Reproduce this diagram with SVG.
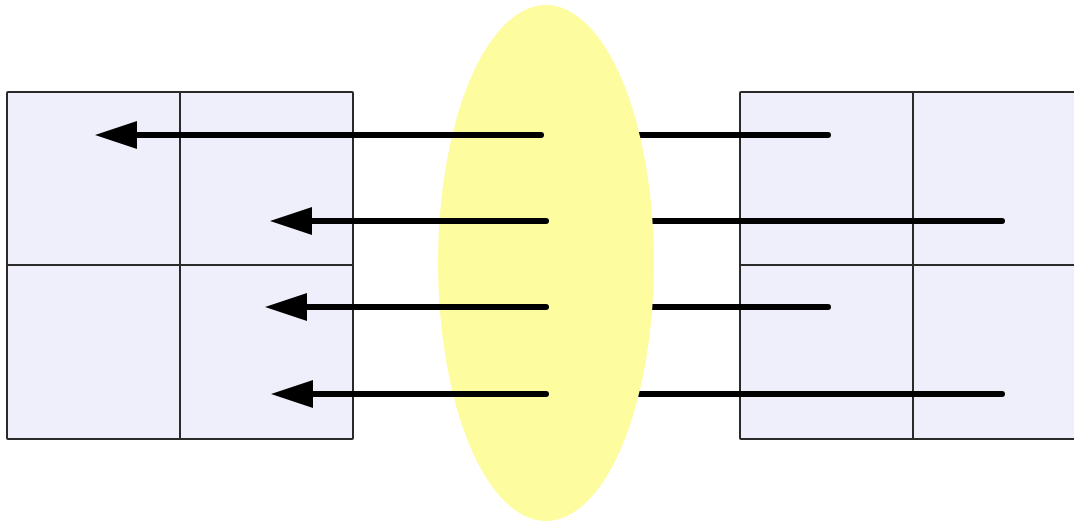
<svg xmlns="http://www.w3.org/2000/svg" width="1074" height="527" viewBox="0 0 1074 527">
  <style>
    .cell { fill: #eeeffb; stroke: #2a2a2a; stroke-width: 2; }
    .div { stroke: #2a2a2a; stroke-width: 2; fill: none; }
    .ray { stroke: #000; stroke-width: 6; fill: none; stroke-linecap: round; }
    .lens { fill: #fdfc9e; }
  </style>
  <defs>
    <marker id="head" markerUnits="userSpaceOnUse" markerWidth="42" markerHeight="28" viewBox="0 0 42 28" refX="0" refY="14" orient="auto">
      <path d="M0,0 L42,14 L0,28 Z" fill="#000"/>
    </marker>
    <!-- hides the incoming rays where they pass behind the lens -->
    <mask id="behindLens" maskUnits="userSpaceOnUse" x="0" y="0" width="1074" height="527">
      <rect x="0" y="0" width="1074" height="527" fill="#fff"/>
      <ellipse cx="546" cy="263" rx="108" ry="258" fill="#000"/>
    </mask>
  </defs>
  <rect width="1074" height="527" fill="#fff"/>

  <g id="target-grid">
    <rect class="cell" x="7" y="92" width="346" height="347" rx="1"/>
    <path class="div" d="M180,92 V439 M7,265 H353"/>
  </g>

  <g id="source-grid">
    <rect class="cell" x="740" y="92" width="346" height="347" rx="1"/>
    <path class="div" d="M913,92 V439 M740,265 H1086"/>
  </g>

  <g id="lens">
    <ellipse class="lens" cx="546" cy="263" rx="108" ry="258"/>
  </g>

  <g id="connectors">
    <g mask="url(#behindLens)">
      <path class="ray" d="M828,135 H546"/>
      <path class="ray" d="M1002,221 H546"/>
      <path class="ray" d="M828,307 H546"/>
      <path class="ray" d="M1002,394 H546"/>
    </g>
    <path class="ray" d="M541,135 H137" marker-end="url(#head)"/>
    <path class="ray" d="M546,221 H312" marker-end="url(#head)"/>
    <path class="ray" d="M546,307 H307" marker-end="url(#head)"/>
    <path class="ray" d="M546,394 H313" marker-end="url(#head)"/>
  </g>
</svg>
